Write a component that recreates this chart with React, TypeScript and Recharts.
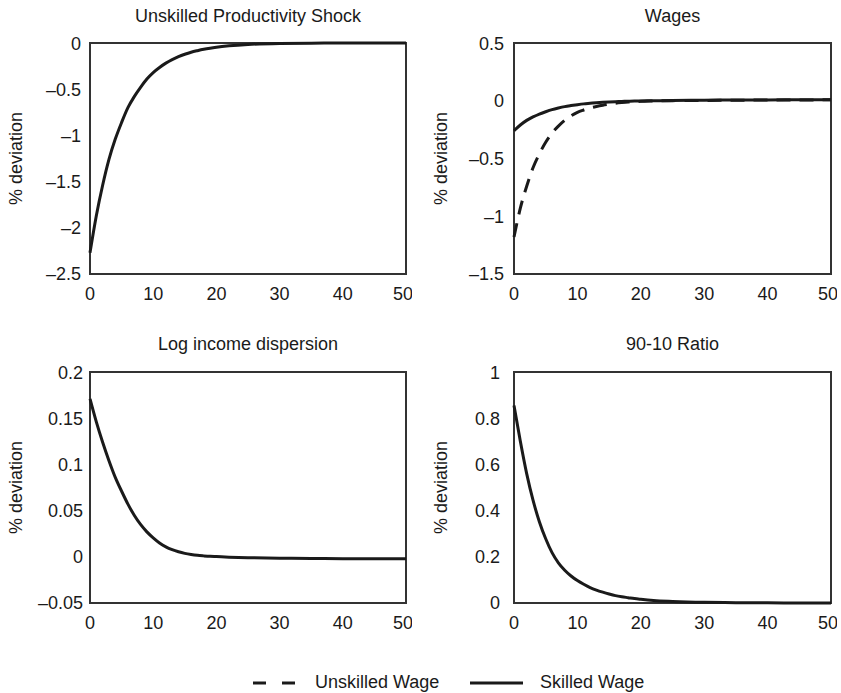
import { LineChart, Line, XAxis, YAxis, ReferenceArea } from "recharts";

// periods after the shock
const periods = [0, 1, 2, 3, 4, 5, 6, 7, 8, 9, 10, 11, 12, 13, 14, 15, 16, 17, 18, 19, 20, 22, 25, 30, 35, 40, 45, 50];

const productivityShock = [-2.27, -1.87, -1.54, -1.26, -1.04, -0.86, -0.7, -0.58, -0.48, -0.39, -0.32, -0.265, -0.218, -0.18, -0.148, -0.122, -0.1, -0.083, -0.068, -0.056, -0.046, -0.031, -0.016, -0.005, -0.002, 0, 0, 0];
const unskilledWage = [-1.18, -0.93, -0.74, -0.58, -0.46, -0.36, -0.28, -0.22, -0.17, -0.13, -0.1, -0.08, -0.063, -0.05, -0.039, -0.03, -0.022, -0.016, -0.011, -0.008, -0.005, -0.002, 0.001, 0.003, 0.005, 0.006, 0.007, 0.008];
const skilledWage = [-0.26, -0.21, -0.17, -0.14, -0.115, -0.095, -0.077, -0.063, -0.051, -0.042, -0.034, -0.027, -0.022, -0.017, -0.013, -0.01, -0.008, -0.006, -0.004, -0.003, -0.002, 0, 0.003, 0.005, 0.006, 0.007, 0.008, 0.008];
const logDispersion = [0.171, 0.146, 0.124, 0.104, 0.086, 0.071, 0.057, 0.045, 0.035, 0.027, 0.0205, 0.015, 0.0108, 0.0077, 0.0054, 0.0037, 0.0025, 0.0016, 0.001, 0.0005, 0.0002, -0.0004, -0.001, -0.0015, -0.0018, -0.002, -0.002, -0.002];
const ratio9010 = [0.855, 0.7, 0.56, 0.445, 0.352, 0.278, 0.218, 0.174, 0.142, 0.117, 0.097, 0.081, 0.067, 0.056, 0.047, 0.039, 0.032, 0.027, 0.023, 0.019, 0.016, 0.011, 0.007, 0.003, 0.0015, 0.0008, 0.0003, 0];

const xTicks = [0, 10, 20, 30, 40, 50];
const shockTicks = [-2.5, -2, -1.5, -1, -0.5, 0];
const wageTicks = [-1.5, -1, -0.5, 0, 0.5];
const dispersionTicks = [-0.05, 0, 0.05, 0.1, 0.15, 0.2];
const ratioTicks = [0, 0.2, 0.4, 0.6, 0.8, 1];

const FONT = "'Liberation Sans', Arial, Helvetica, sans-serif";
const INK = "#1a1a1a";

const fmt = (v: number) => String(v).replace("-", "\u2013");

type Series = { key: string; values: number[]; dashed?: boolean };

type PanelProps = {
  plot: { x: number; y: number; w: number; h: number };
  series: Series[];
  yTicks: number[];
  yGap: number;
};

function Panel({ plot, series, yTicks, yGap }: PanelProps) {
  const padL = 90;
  const padT = 10;
  const padR = 6;
  const padB = 45;
  const data = periods.map((p, i) => {
    const row: Record<string, number> = { t: p };
    series.forEach((s) => (row[s.key] = s.values[i]));
    return row;
  });
  const yMin = yTicks[0];
  const yMax = yTicks[yTicks.length - 1];
  return (
    <div style={{ position: "absolute", left: plot.x - padL, top: plot.y - padT }}>
      <LineChart
        width={plot.w + padL + padR}
        height={plot.h + padT + padB}
        data={data}
        margin={{ top: padT, right: padR, left: padL - 70, bottom: padB - 40 }}
      >
        <XAxis
          dataKey="t"
          type="number"
          domain={[0, 50]}
          ticks={xTicks}
          height={40}
          axisLine={false}
          tickLine={false}
          tickSize={0}
          tickMargin={13}
          tick={{ fill: INK, fontSize: 18, fontFamily: FONT }}
        />
        <YAxis
          type="number"
          domain={[yMin, yMax]}
          ticks={yTicks}
          width={70}
          axisLine={false}
          tickLine={false}
          tickSize={0}
          tickMargin={yGap}
          tickFormatter={fmt}
          tick={{ fill: INK, fontSize: 18, fontFamily: FONT }}
        />
        <ReferenceArea x1={0} x2={50} y1={yMin} y2={yMax} fill="none" fillOpacity={0} stroke="#333" strokeWidth={2} />
        {series.map((s) => (
          <Line
            key={s.key}
            dataKey={s.key}
            type="monotone"
            stroke={INK}
            strokeWidth={3}
            strokeDasharray={s.dashed ? "14 9" : undefined}
            dot={false}
            isAnimationActive={false}
          />
        ))}
      </LineChart>
    </div>
  );
}

const plots = {
  tl: { x: 90, y: 43, w: 316, h: 231 },
  tr: { x: 514, y: 43, w: 317, h: 231 },
  bl: { x: 90, y: 372, w: 316, h: 231 },
  br: { x: 514, y: 372, w: 317, h: 231 },
};

export default function App() {
  const textStyle = { fontFamily: FONT, fontSize: 18, fill: INK };
  const titles = [
    { text: "Unskilled Productivity Shock", p: plots.tl, y: 22 },
    { text: "Wages", p: plots.tr, y: 22 },
    { text: "Log income dispersion", p: plots.bl, y: 350 },
    { text: "90-10 Ratio", p: plots.br, y: 350 },
  ];
  const yLabels = [
    { x: 16, p: plots.tl },
    { x: 441, p: plots.tr },
    { x: 16, p: plots.bl },
    { x: 441, p: plots.br },
  ];
  return (
    <div style={{ position: "absolute", left: 0, top: 0, width: 841, height: 693, background: "#fff", overflow: "hidden" }}>
      <Panel plot={plots.tl} series={[{ key: "shock", values: productivityShock }]} yTicks={shockTicks} yGap={9} />
      <Panel
        plot={plots.tr}
        series={[
          { key: "unskilled", values: unskilledWage, dashed: true },
          { key: "skilled", values: skilledWage },
        ]}
        yTicks={wageTicks}
        yGap={10}
      />
      <Panel plot={plots.bl} series={[{ key: "dispersion", values: logDispersion }]} yTicks={dispersionTicks} yGap={7} />
      <Panel plot={plots.br} series={[{ key: "ratio", values: ratio9010 }]} yTicks={ratioTicks} yGap={14} />

      <svg width={841} height={693} style={{ position: "absolute", left: 0, top: 0, pointerEvents: "none" }}>
        {titles.map((t) => (
          <text key={t.text} x={t.p.x + t.p.w / 2} y={t.y} textAnchor="middle" style={textStyle}>
            {t.text}
          </text>
        ))}
        {yLabels.map((l, i) => {
          const cy = l.p.y + l.p.h / 2;
          return (
            <text
              key={i}
              x={l.x}
              y={cy}
              textAnchor="middle"
              dominantBaseline="central"
              transform={`rotate(-90 ${l.x} ${cy})`}
              style={textStyle}
            >
              % deviation
            </text>
          );
        })}
        {/* legend */}
        <line x1={253} y1={683} x2={266} y2={683} stroke={INK} strokeWidth={3} />
        <line x1={282} y1={683} x2={295} y2={683} stroke={INK} strokeWidth={3} />
        <text x={315} y={688} style={textStyle}>Unskilled Wage</text>
        <line x1={470} y1={683} x2={523} y2={683} stroke={INK} strokeWidth={3} />
        <text x={540} y={688} style={textStyle}>Skilled Wage</text>
      </svg>
    </div>
  );
}
